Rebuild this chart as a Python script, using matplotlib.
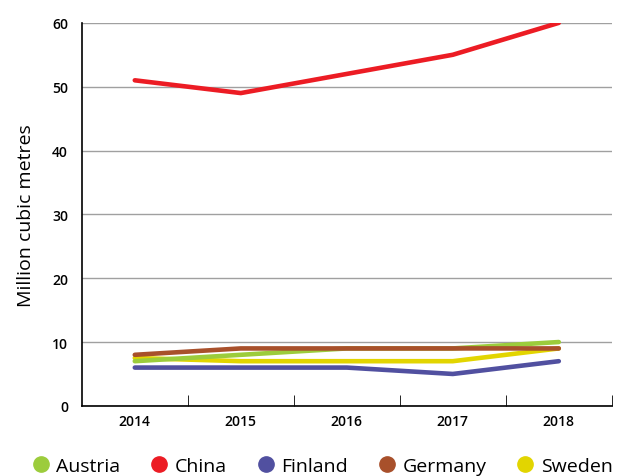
import matplotlib.pyplot as plt
import numpy as np

years = ['2014', '2015', '2016', '2017', '2018']
austria = [7, 8, 9, 9, 10]
china = [51, 49, 52, 55, 60]
finland = [6, 6, 6, 5, 7]
germany = [8, 9, 9, 9, 9]
sweden = [7.5, 7, 7, 7, 9]

plt.rcParams['font.family'] = ['Open Sans', 'DejaVu Sans']

fig = plt.figure(figsize=(6.34, 4.77), dpi=100)
ax = fig.add_axes([0.129, 0.147, 0.836, 0.803])

x = np.arange(len(years))
lw = 3.3
# draw order: bottom to top as in the picture
ax.plot(x, sweden, color='#e2d500', lw=lw, solid_capstyle='round', zorder=3)
ax.plot(x, finland, color='#5150a0', lw=lw, solid_capstyle='round', zorder=4)
ax.plot(x, austria, color='#9ccc3c', lw=lw, solid_capstyle='round', zorder=5)
ax.plot(x, germany, color='#a8502b', lw=lw, solid_capstyle='round', zorder=6)
ax.plot(x, china, color='#ec1c24', lw=lw, solid_capstyle='round', zorder=7)

ax.set_xlim(-0.5, len(years) - 0.5)
ax.set_ylim(0, 60)
ax.set_yticks(range(0, 61, 10))
ax.tick_params(axis='y', length=0, pad=10, labelsize=10)
ax.set_xticks(x)
ax.set_xticklabels(years, fontsize=10, fontweight='semibold')
for lab in ax.get_yticklabels():
    lab.set_fontweight('semibold')
ax.tick_params(axis='x', which='major', length=0, pad=6)
ax.set_xticks(np.arange(0.5, len(years), 1.0), minor=True)
ax.tick_params(axis='x', which='minor', direction='in', length=8, color='black')

ax.grid(axis='y', color='#a0a0a0', lw=1)
ax.set_axisbelow(True)
for s in ['top', 'right']:
    ax.spines[s].set_visible(False)
ax.spines['left'].set_linewidth(1.2)
ax.spines['bottom'].set_linewidth(1.2)

ax.set_ylabel('Million cubic metres', fontsize=14, labelpad=12)

names = ['Austria', 'China', 'Finland', 'Germany', 'Sweden']
cols = ['#9ccc3c', '#ec1c24', '#5150a0', '#a8502b', '#e2d500']
handles = [plt.Line2D([], [], marker='o', ls='', color=c, markersize=11) for c in cols]
fig.legend(handles, names, loc='lower center', ncol=5, frameon=False,
           fontsize=14, bbox_to_anchor=(0.51, -0.035), handlelength=0.7,
           handletextpad=0.45, columnspacing=1.65)

fig.savefig('out.png', dpi=100)
